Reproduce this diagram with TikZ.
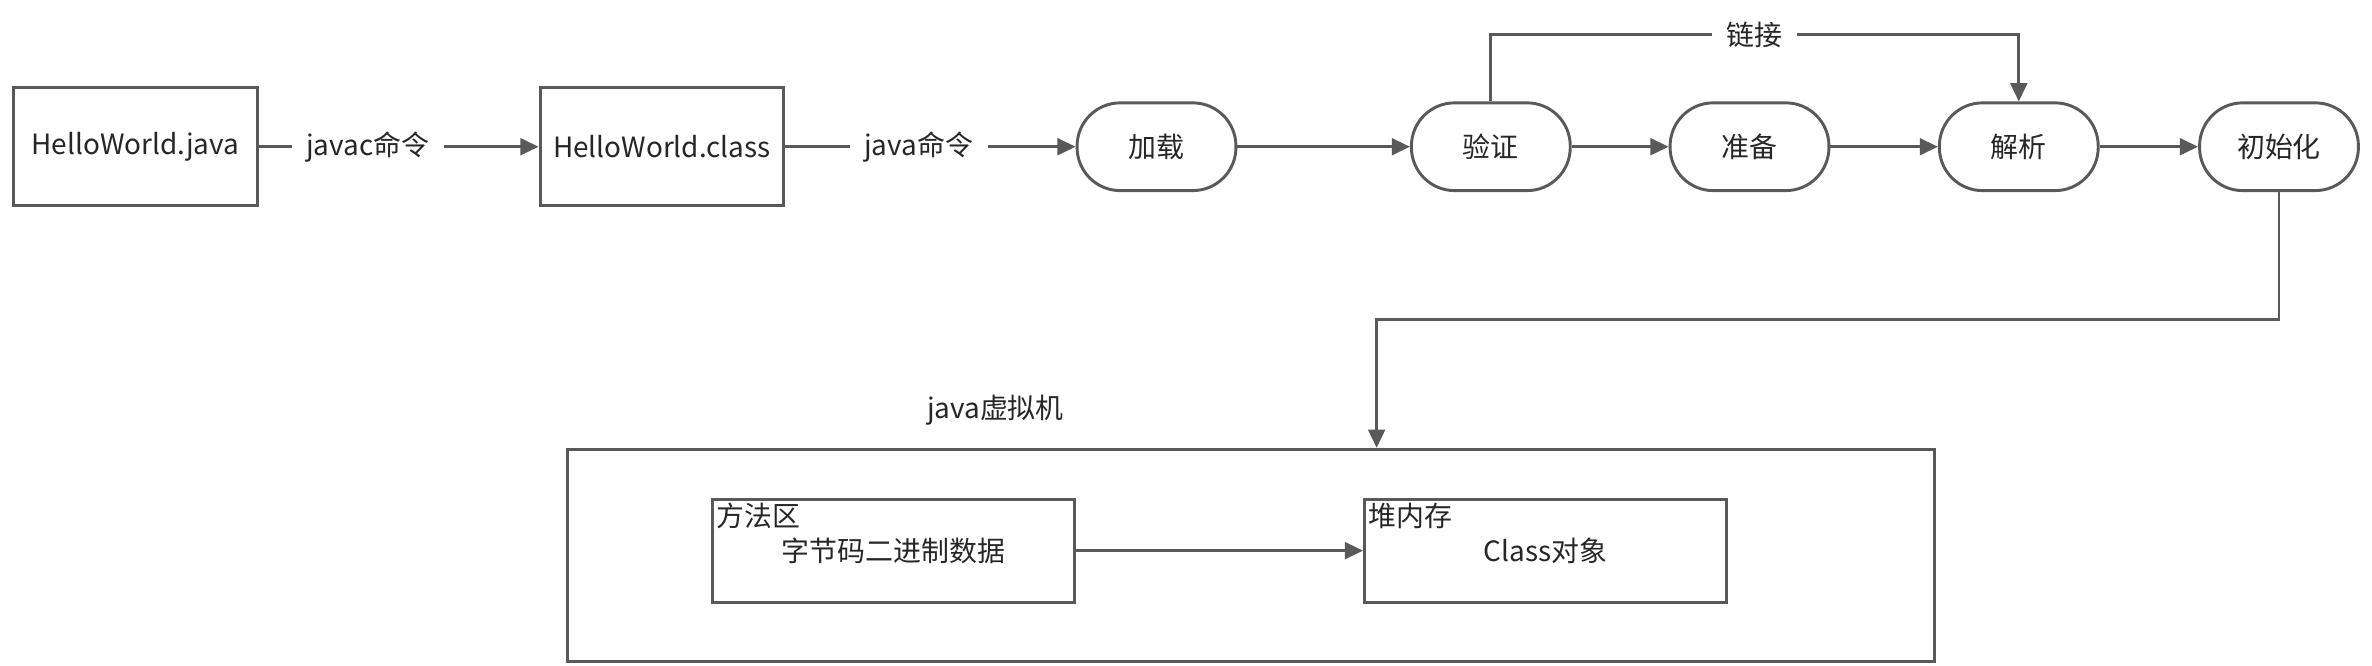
\documentclass[tikz,border=0pt]{standalone}
\usepackage{fontspec}
\setmainfont{Noto Sans CJK SC}
\usetikzlibrary{arrows.meta}

\begin{document}
\begin{tikzpicture}[x=1cm,y=1cm,
    font=\fontsize{10.5}{12}\selectfont,
    >={Triangle[length=2.4mm,width=2.2mm]},
    line width=1.1pt,
    filebox/.style={draw=black!65,text=black!85,minimum width=3.22cm,minimum height=1.56cm},
    stage/.style={draw=black!65,text=black!85,rounded corners=0.57cm,minimum width=2.1cm,minimum height=1.16cm},
    area/.style={draw=black!65,text=black!85,minimum width=4.78cm,minimum height=1.36cm},
    flow/.style={->,draw=black!65},
    gap/.style={fill=white,text=black!85,inner xsep=5.5pt}]
    \useasboundingbox (0,0) rectangle (31.36,8.80);

    % source and bytecode files
    \node[filebox] (java-file) at (1.79,6.86) {HelloWorld.java};
    \node[filebox] (class-file) at (8.75,6.86) {HelloWorld.class};

    % class loading stages
    \node[stage] (load) at (15.29,6.86) {加载};
    \node[stage] (verify) at (19.71,6.86) {验证};
    \node[stage] (prepare) at (23.13,6.86) {准备};
    \node[stage] (resolve) at (26.69,6.86) {解析};
    \node[stage] (init) at (30.13,6.86) {初始化};

    \draw[flow] (java-file) -- node[gap,pos=0.39] {javac命令} (class-file);
    \draw[flow] (class-file) -- node[gap,pos=0.46] {java命令} (load);
    \draw[flow] (load) -- (verify);
    \draw[flow] (verify) -- (prepare);
    \draw[flow] (prepare) -- (resolve);
    \draw[flow] (resolve) -- (init);

    \coordinate (link-level) at (0,8.34);
    \draw[flow] (verify.north) -- (verify.north |- link-level)
        -- node[gap] {链接} (resolve.north |- link-level)
        -- (resolve.north);

    % virtual machine
    \node[text=black!85] (vm-label) at (13.16,3.38) {java虚拟机};
    \node[draw=black!65,minimum width=18.08cm,minimum height=2.80cm]
        (vm) at (16.54,1.46) {};

    \node[area] (method-area) at (11.81,1.52) {字节码二进制数据};
    \node[area] (heap) at (20.43,1.52) {Class对象};
    \node[anchor=north west,inner sep=1.5pt,text=black!85]
        (method-label) at (method-area.north west) {方法区};
    \node[anchor=north west,inner sep=1.5pt,text=black!85]
        (heap-label) at (heap.north west) {堆内存};

    \draw[flow] (method-area) -- (heap);

    \coordinate (turn) at (18.20,4.58);
    \draw[flow] (init.south) |- (turn) -- (turn |- vm.north);
\end{tikzpicture}
\end{document}
